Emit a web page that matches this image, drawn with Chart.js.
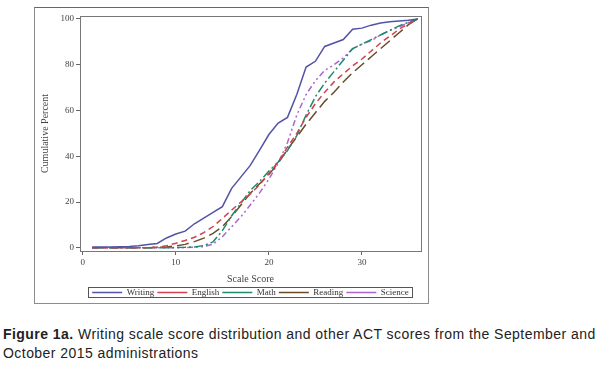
<!DOCTYPE html>
<html lang="en">
<head>
<meta charset="UTF-8">
<title>Figure 1a</title>
<script src="https://cdn.jsdelivr.net/npm/chart.js@4.4.0/dist/chart.umd.min.js"></script>
<style>
  body { margin: 0; background: #fff; width: 600px; height: 373px; overflow: hidden; position: relative; }
  #frame { position: absolute; left: 34px; top: 7px; width: 393px; height: 295px; border: 1px solid #8c8c8c; border-top-color: #666; pointer-events: none; }
  #myChart { position: absolute; left: 35px; top: 8px; }
  #caption { position: absolute; left: 3px; top: 325px; white-space: nowrap; font-family: "Liberation Sans", Arial, sans-serif; font-size: 14px; letter-spacing: 0.45px; line-height: 19px; color: #222; }
</style>
</head>
<body>
<canvas id="myChart" width="393" height="299"></canvas>
<div id="frame"></div>
<div id="caption"><b>Figure 1a.</b> Writing scale score distribution and other ACT scores from the September and<br>October 2015 administrations</div>

<script>
// scale scores 1..36
const scores = [1,2,3,4,5,6,7,8,9,10,11,12,13,14,15,16,17,18,19,20,21,22,23,24,25,26,27,28,29,30,31,32,33,34,35,36];

// cumulative percent
const writing = [0.3,0.3,0.4,0.5,0.6,0.9,1.4,1.9,4.3,6,7.3,10.5,13,15.5,18,26,31,36,42.7,49.5,54.5,57,67,79,81.5,88,89.5,91,95.5,96,97.3,98.2,98.8,99.1,99.4,100];
const english = [0,0,0,0,0,0,0.1,0.3,0.9,2,3.2,4.6,6.6,9.3,12.8,16.5,20,23.5,27.5,32.5,37.5,44,50,57,63,68,72.5,76,79.5,82.5,86,89.5,92.5,95.5,98,100];
const math    = [0,0,0,0,0,0,0,0,0,0.1,0.2,0.4,1,2.6,7.5,14,19.5,25,29,33.5,37.5,42.5,49,58,66,72,77,82,87,89,91,93,95,97,98.5,100];
const reading = [0,0,0,0,0,0,0,0.1,0.4,0.8,1.5,2.7,4.2,6.3,9.2,13.6,18.7,23.8,28,32,37,43,48.5,54,59,64,68,72.5,76.5,80,83.5,87,90.5,94,97.5,100];
const science = [0,0,0,0,0,0,0,0,0,0,0.1,0.2,0.5,1.6,4.8,9.2,13.6,18.7,24,30,37,46,58,67,73,77.5,80,83,87,89,90.5,93,95,96.5,98.5,100];

const xTicks = [0, 10, 20, 30];
const yTicks = [0, 20, 40, 60, 80, 100];

const serif = '"Liberation Serif", "DejaVu Serif", serif';

function pts(vals) {
    return scores.map((s, i) => ({ x: s, y: vals[i] }));
}

function line(label, vals, color, dash) {
    return {
        label: label,
        data: pts(vals),
        borderColor: color,
        backgroundColor: color,
        borderWidth: 1.5,
        borderDash: dash,
        pointRadius: 0,
        fill: false,
        tension: 0
    };
}

// plot frame + box round the legend
const boxes = {
    id: 'boxes',
    afterDraw(chart) {
        const ctx = chart.ctx;
        const a = chart.chartArea;
        ctx.save();
        ctx.strokeStyle = '#777';
        ctx.lineWidth = 1;
        ctx.strokeRect(Math.round(a.left) + 0.5, Math.round(a.top) + 0.5, Math.round(a.right - a.left), Math.round(a.bottom - a.top));
        const hb = chart.legend.legendHitBoxes;
        if (hb && hb.length) {
            const first = hb[0], last = hb[hb.length - 1];
            const x0 = Math.round(first.left) - 4;
            const x1 = Math.round(last.left + last.width) + 3;
            const y0 = Math.round(first.top) - 1;
            ctx.strokeStyle = '#555';
            ctx.strokeRect(x0 + 0.5, y0 + 0.5, x1 - x0, 10);
        }
        ctx.restore();
    }
};

const ctx = document.getElementById('myChart').getContext('2d');
const myChart = new Chart(ctx, {
    type: 'line',
    data: {
        datasets: [
            line('Writing', writing, '#5252a6', []),
            line('English', english, '#d2404e', [6, 4]),
            line('Math', math, '#1f8a6e', [9, 3, 2, 3]),
            line('Reading', reading, '#6b4b2b', [12, 5]),
            line('Science', science, '#ab66cc', [6, 3, 2, 3, 2, 3])
        ]
    },
    options: {
        responsive: false,
        animation: false,
        layout: { padding: { top: 8, right: 7, left: 0, bottom: 0 } },
        plugins: {
            tooltip: { enabled: false },
            legend: {
                position: 'bottom',
                fullSize: false,
                labels: {
                    usePointStyle: true,
                    pointStyle: 'line',
                    pointStyleWidth: 30,
                    padding: 3,
                    color: '#333',
                    font: { family: serif, size: 9 }
                }
            }
        },
        scales: {
            x: {
                type: 'linear',
                min: -0.3,
                max: 36.35,
                afterBuildTicks: s => { s.ticks = xTicks.map(v => ({ value: v })); },
                afterFit: s => { s.height = 34; },
                grid: { drawOnChartArea: false, drawTicks: true, tickLength: 4, color: '#666' },
                border: { color: '#777' },
                ticks: { color: '#444', padding: 2, maxRotation: 0, font: { family: serif, size: 9 } },
                title: { display: true, text: 'Scale Score', color: '#444', padding: { top: 2, bottom: 0 }, font: { family: serif, size: 10 } }
            },
            y: {
                min: -1.4,
                max: 101.3,
                afterBuildTicks: s => { s.ticks = yTicks.map(v => ({ value: v })); },
                afterFit: s => { s.width = 45; },
                grid: { drawOnChartArea: false, drawTicks: true, tickLength: 4, color: '#666' },
                border: { color: '#777' },
                ticks: { color: '#444', padding: 2, font: { family: serif, size: 9 } },
                title: { display: true, text: 'Cumulative Percent', color: '#444', padding: { top: 4, bottom: 0 }, font: { family: serif, size: 10 } }
            }
        }
    },
    plugins: [boxes]
});
</script>
</body>
</html>
